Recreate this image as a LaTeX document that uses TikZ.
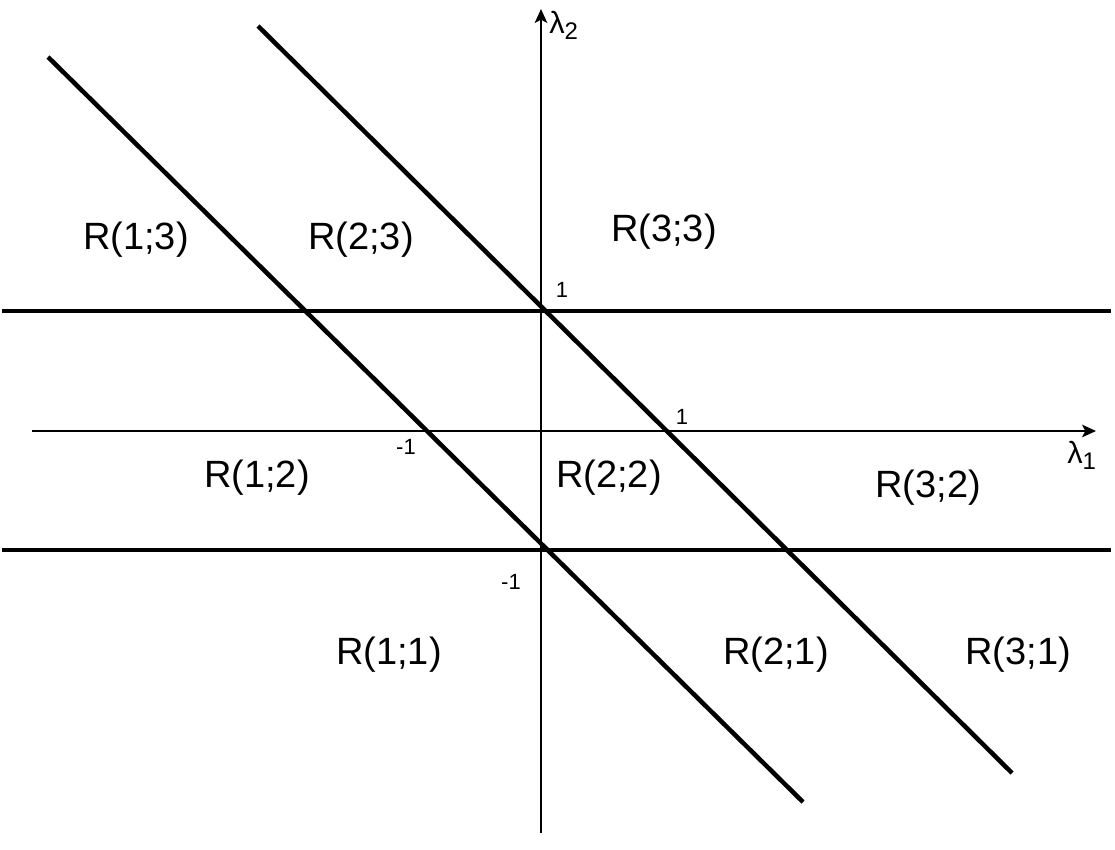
\documentclass[tikz,border=0pt]{standalone}
\usepackage{fontspec}
\setmainfont{Liberation Sans}
\usetikzlibrary{arrows.meta}
\begin{document}
\begin{tikzpicture}[x=0.75pt,y=-0.75pt,
  axis/.style={line width=1.1pt,-{Stealth[length=10.5pt,width=9.5pt,inset=2.5pt]}},
  thick line/.style={line width=3.4pt},
  region/.style={inner sep=0pt,font=\fontsize{28.5}{28.5}\selectfont},
  tick/.style={inner sep=0pt,anchor=base,font=\fontsize{16.5}{16.5}\selectfont},
  axlabel/.style={inner sep=0pt,anchor=base west}]
\useasboundingbox (0,0) rectangle (1115,850);
% axes
\coordinate (xs) at (32,431);
\coordinate (xe) at (1096,431);
\coordinate (ys) at (541,833);
\coordinate (ye) at (541,9);
\draw[axis] (xs) -- (xe);
\draw[axis] (ys) -- (ye);
% horizontal thick lines
\coordinate (h1a) at (2,311);
\coordinate (h1b) at (1111,311);
\coordinate (h2a) at (2,550);
\coordinate (h2b) at (1111,550);
\draw[thick line] (h1a) -- (h1b);
\draw[thick line] (h2a) -- (h2b);
% diagonal lines
\coordinate (d1a) at (48,57);
\coordinate (d1b) at (803,802);
\coordinate (d2a) at (258,26);
\coordinate (d2b) at (1012,773);
\draw[thick line] (d1a) -- (d1b);
\draw[thick line] (d2a) -- (d2b);
% axis labels
\node[axlabel] (l2) at (549,33) {\fontsize{23}{23}\selectfont λ\raisebox{-5pt}{\fontsize{18}{18}\selectfont 2}};
\node[axlabel] (l1) at (1067,463) {\fontsize{23}{23}\selectfont λ\raisebox{-5pt}{\fontsize{18}{18}\selectfont 1}};
% ticks
\node[tick] (t1) at (562,297) {1};
\node[tick] (t2) at (682,424) {1};
\node[tick] (t3) at (406,454) {-1};
\node[tick] (t4) at (511,589) {-1};
% regions
\node[region] (r13) at (136,240) {R(1;3)};
\node[region] (r23) at (361,240) {R(2;3)};
\node[region] (r33) at (664,232) {R(3;3)};
\node[region] (r12) at (257,478) {R(1;2)};
\node[region] (r22) at (609,478) {R(2;2)};
\node[region] (r32) at (928,488) {R(3;2)};
\node[region] (r11) at (389,655) {R(1;1)};
\node[region] (r21) at (776,655) {R(2;1)};
\node[region] (r31) at (1018,655) {R(3;1)};
\end{tikzpicture}
\end{document}
